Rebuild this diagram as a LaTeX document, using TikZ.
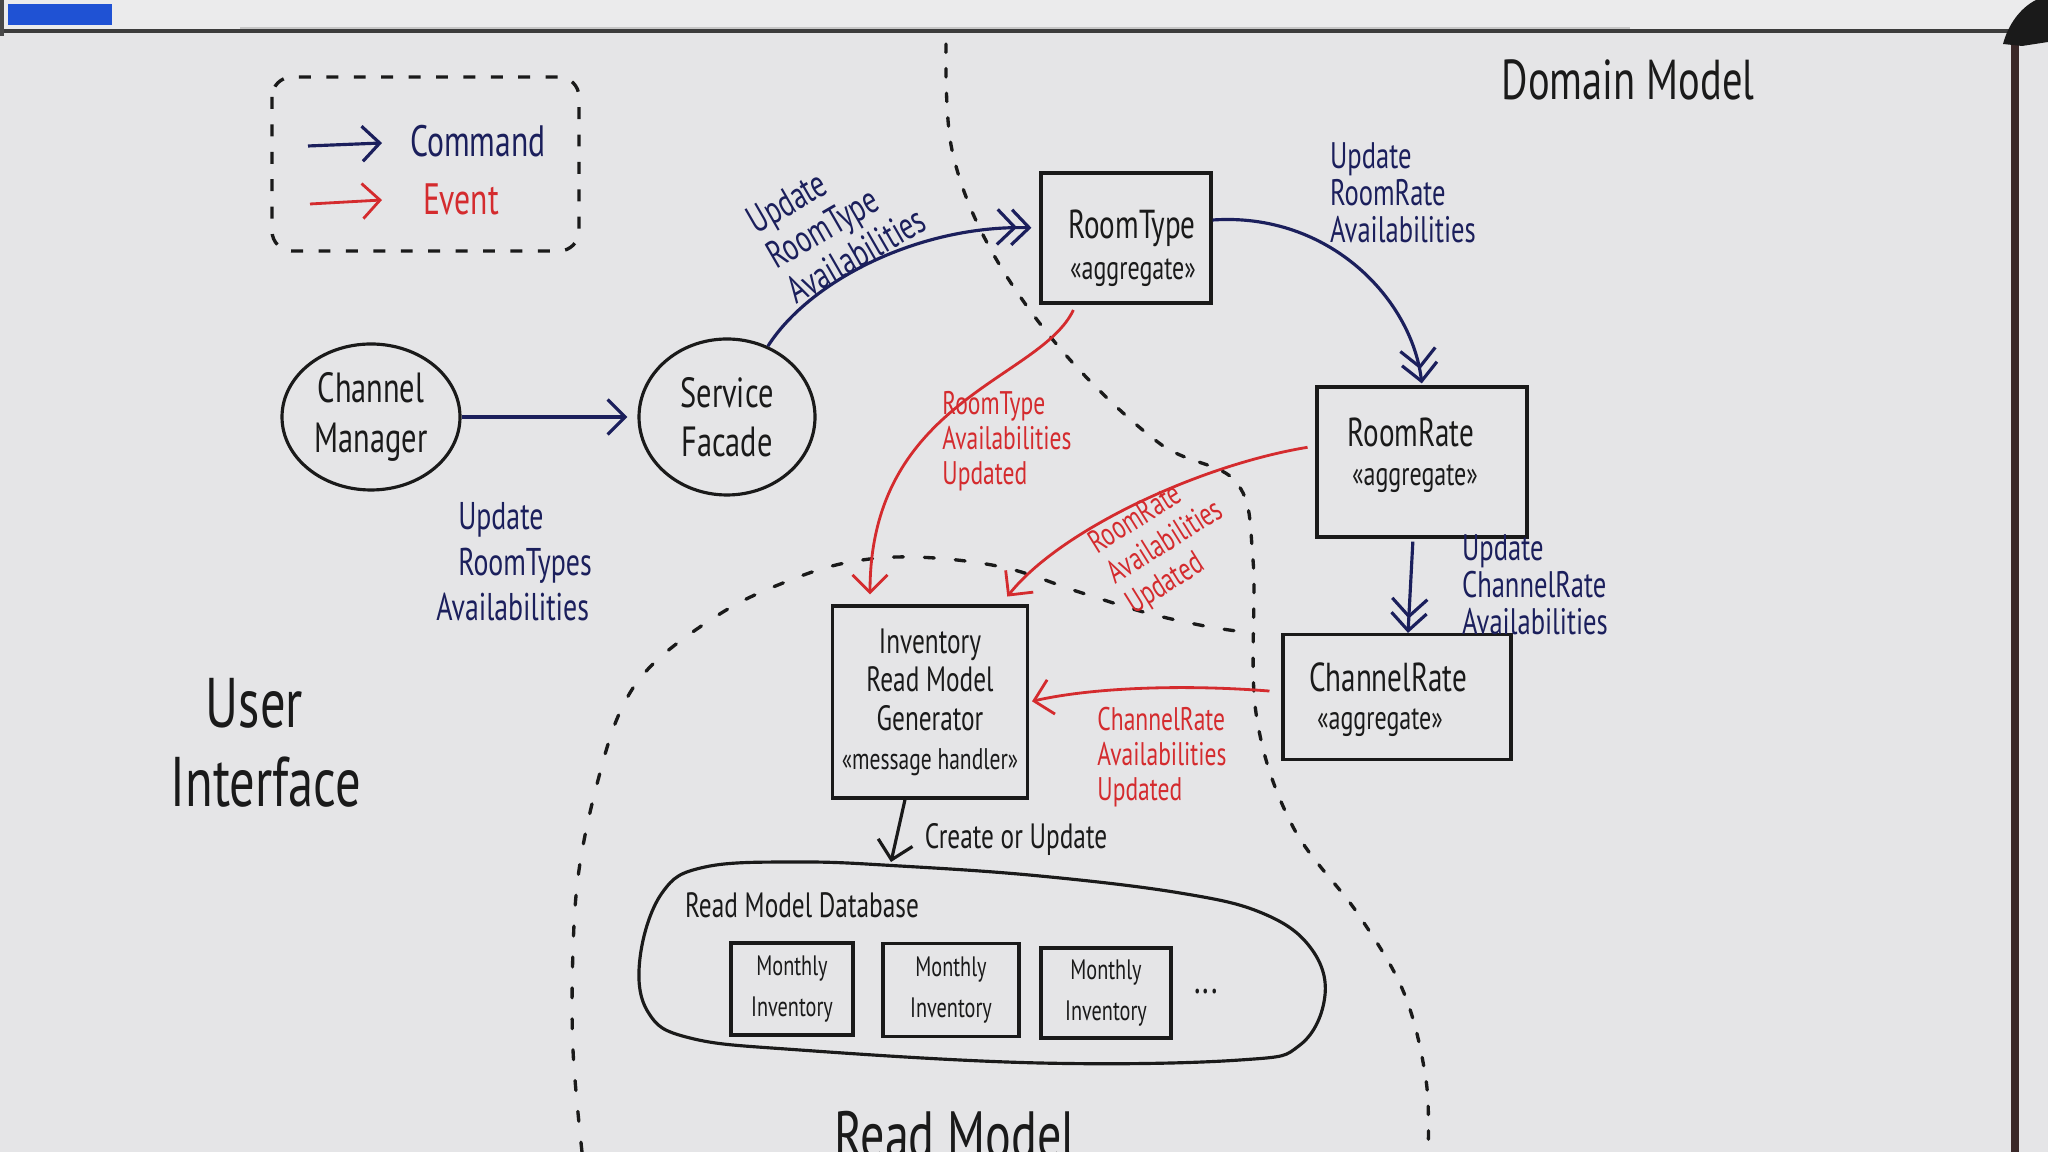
\documentclass[tikz,border=0pt]{standalone}
\usepackage{fontspec}
\setmainfont{PT Sans}[FakeStretch=0.72]
\usetikzlibrary{arrows.meta,shapes.geometric,calc}
\definecolor{board}{HTML}{E5E5E7}
\definecolor{boardtop}{HTML}{EBEBEC}
\definecolor{navy}{HTML}{1B1F5C}
\definecolor{mred}{HTML}{D42B2E}
\definecolor{ink}{HTML}{1A1A1A}
\definecolor{frame}{HTML}{3A2828}
\definecolor{sticker}{HTML}{1F52D4}
\tikzset{
  pen/.style={line width=0.9pt},
  box/.style={draw=ink, pen, rectangle, inner sep=0pt},
  bubble/.style={draw=ink, pen, ellipse, inner sep=0pt, align=center, text=ink,
    font=\fontsize{12}{14}\selectfont},
  title/.style={text=ink, inner sep=0pt, font=\fontsize{11.5}{13}\selectfont},
  stereo/.style={text=ink, inner sep=0pt, font=\fontsize{9.5}{11}\selectfont},
  cmdlbl/.style={text=navy, inner sep=0pt, font=\fontsize{11}{13}\selectfont},
  cmdlblr/.style={text=navy, inner sep=0pt, font=\fontsize{11}{11.5}\selectfont},
  cmdlblb/.style={text=navy, inner sep=0pt, font=\fontsize{10.5}{10.5}\selectfont},
  evlbl/.style={text=mred, inner sep=0pt, font=\fontsize{9.3}{10}\selectfont},
  inklbl/.style={text=ink, inner sep=0pt, font=\fontsize{10}{12}\selectfont},
  bigtitle/.style={text=ink, inner sep=0pt},
  cmdarrow/.style={draw=navy, pen, -{Straight Barb[length=5pt,width=10pt]}},
  cmddouble/.style={draw=navy, pen, -{Straight Barb[length=5pt,width=10pt,sep=-2pt]Straight Barb[length=5pt,width=10pt]}},
  evarrow/.style={draw=mred, line width=0.8pt, -{Straight Barb[length=5pt,width=10pt]}},
  inkarrow/.style={draw=ink, pen, -{Straight Barb[length=5pt,width=10pt]}},
  dotline/.style={draw=ink, line width=0.95pt, dash pattern=on 2.4pt off 4.6pt, line cap=round},
}
\begin{document}
\begin{tikzpicture}[x=0.1mm,y=-0.1mm]
% board
\useasboundingbox (0,0) rectangle (2048,1152);
\fill[board] (0,0) rectangle (2048,1152);
\fill[boardtop] (0,0) rectangle (2048,29);
\draw[gray!80, line width=1.4pt, opacity=0.45] (240,29) -- (1630,29);
\draw[ink!85, line width=0.9pt] (0,31) -- (2012,31);
\draw[frame, line width=2.2pt] (2015,30) -- (2015,1152);
\fill[ink] (2003,44) .. controls (2008,25) and (2020,8) .. (2036,0) -- (2048,0) -- (2048,42) -- (2022,46) -- cycle;
\fill[ink!80] (0,0) rectangle (4,36);
\fill[sticker] (8,4) rectangle (112,25);

% legend
\draw[draw=ink, line width=0.95pt, dash pattern=on 3.4pt off 4.4pt, rounded corners=2mm] (272,77) rectangle (579,251);
\coordinate (lc1) at (308,146);
\coordinate (lc2) at (382,143);
\coordinate (le1) at (310,204);
\coordinate (le2) at (382,200);
\node[text=navy, inner sep=0pt, font=\fontsize{12.5}{14}\selectfont] (lcmd) at (478,141) {Command};
\node[text=mred, inner sep=0pt, font=\fontsize{12.5}{14}\selectfont] (lev) at (461,199) {Event};
\draw[cmdarrow] (lc1) -- (lc2);
\draw[evarrow] (le1) -- (le2);

% region titles
\node[bigtitle, font=\fontsize{16}{18}\selectfont] (dm) at (1628,80) {Domain Model};
\node[bigtitle, align=left, font=\fontsize{20}{22.5}\selectfont] (ui) at (266,743) {\hspace*{3.5mm}User\\Interface};
\node[bigtitle, anchor=base, font=\fontsize{19}{21}\selectfont] (rm) at (955,1158) {Read Model};

% boundaries
\draw[dotline] plot[smooth, tension=0.6] coordinates {(946,44) (952,150) (991,250) (1064,353) (1159,443) (1236,482) (1253,560) (1256,713) (1292,825) (1358,914) (1404,993) (1426,1080) (1428,1152)};
\draw[dotline, dash pattern=on 2.8pt off 6pt] plot[smooth, tension=0.6] coordinates {(582,1152) (573,1050) (573,950) (579,870) (596,788) (620,712) (655,662) (723,612) (783,583) (845,563) (914,557) (1002,567) (1079,592) (1147,613) (1210,627) (1254,633)};

% user interface nodes
\node[bubble, minimum width=17.8mm, minimum height=14.6mm] (cm) at (371,417) {Channel\\Manager};
\node[bubble, minimum width=17.6mm, minimum height=15.6mm] (sf) at (727,417) {Service\\Facade};

% aggregates
\node[box, minimum width=17mm, minimum height=13mm] (rt) at (1126,238) {};
\node[title] (rtn) at (1132,228) {RoomType};
\node[stereo] (rts) at (1133,273) {«aggregate»};
\node[box, minimum width=21mm, minimum height=15mm] (rr) at (1422,462) {};
\node[title] (rrn) at (1411,432) {RoomRate};
\node[stereo] (rrs) at (1415,479) {«aggregate»};
\node[box, minimum width=22.8mm, minimum height=12.5mm] (cr) at (1397,697) {};
\node[title] (crn) at (1388,677) {ChannelRate};
\node[stereo] (crs) at (1380,723) {«aggregate»};

% read model
\node[box, minimum width=19.5mm, minimum height=19.2mm, align=center, text=ink,
  font=\fontsize{10}{11}\selectfont] (irmg) at (930,702)
  {Inventory\\Read Model\\Generator\\{\fontsize{8.5}{11}\selectfont «message handler»}};
\draw[draw=ink, pen] plot[smooth cycle, tension=0.65] coordinates {(640,958) (662,893) (705,867) (800,862) (900,866) (1040,876) (1180,893) (1262,913) (1310,947) (1325,995) (1300,1045) (1240,1060) (1040,1063) (800,1050) (690,1038) (648,1012)};
\coordinate (dbtop) at (891,862);
\node[inklbl] (rmdb) at (802,905) {Read Model Database};
\node[box, minimum width=12.2mm, minimum height=9.2mm, align=center, text=ink, font=\fontsize{8}{11.5}\selectfont] (mi1) at (792,989) {Monthly\\Inventory};
\node[box, minimum width=13.6mm, minimum height=9.3mm, align=center, text=ink, font=\fontsize{8}{11.5}\selectfont] (mi2) at (951,990) {Monthly\\Inventory};
\node[box, minimum width=13mm, minimum height=9mm, align=center, text=ink, font=\fontsize{8}{11.5}\selectfont] (mi3) at (1106,993) {Monthly\\Inventory};
\node[inklbl, font=\fontsize{12}{12}\selectfont] (more) at (1206,992) {...};

% connectors
\draw[cmdarrow, shorten >=1mm] (cm.east) -- (sf.west);
\draw[cmddouble, shorten >=0.8mm] (sf.60) .. controls (810,280) and (920,225) .. ([yshift=1mm]rt.west);
\draw[cmddouble, shorten >=0.2mm] ([yshift=1.8mm]rt.east) .. controls (1330,212) and (1412,300) .. (rr.north);
\draw[cmddouble, shorten <=0.3mm] ([xshift=-0.9mm]rr.south) -- ([xshift=1.1mm]cr.north);
\draw[evarrow, shorten <=0.6mm, shorten >=1mm] ([xshift=-5mm]rt.south) .. controls (1040,380) and (870,400) .. ([xshift=-6mm]irmg.north);
\draw[evarrow, shorten <=0.8mm, shorten >=1mm] ([yshift=1.6mm]rr.west) .. controls (1200,465) and (1060,530) .. ([xshift=-2.8mm]irmg.north east);
\draw[evarrow, shorten <=1.2mm, shorten >=0.3mm] ([yshift=0.5mm]cr.west) .. controls (1180,684) and (1090,688) .. (irmg.east);
\draw[inkarrow] ([xshift=-2.5mm]irmg.south) -- (dbtop);

% labels
\node[cmdlbl, align=left] (l1) at (514,562) {\hspace*{2.2mm}Update\\\hspace*{2.2mm}RoomTypes\\Availabilities};
\node[cmdlblr, align=left, rotate=30] (l2) at (836,220) {Update\\RoomType\\Availabilities};
\node[cmdlblb, align=left] (l3) at (1403,193) {Update\\RoomRate\\Availabilities};
\node[cmdlblb, align=left] (l4) at (1535,585) {Update\\ChannelRate\\Availabilities};
\node[evlbl, align=left] (e1) at (1007,441) {RoomType\\Availabilities\\Updated};
\node[evlbl, align=left, rotate=32] (e2) at (1166,543) {RoomRate\\Availabilities\\Updated};
\node[evlbl, align=left] (e3) at (1162,757) {ChannelRate\\Availabilities\\Updated};
\node[inklbl] (cu) at (1016,840) {Create or Update};
\end{tikzpicture}
\end{document}
